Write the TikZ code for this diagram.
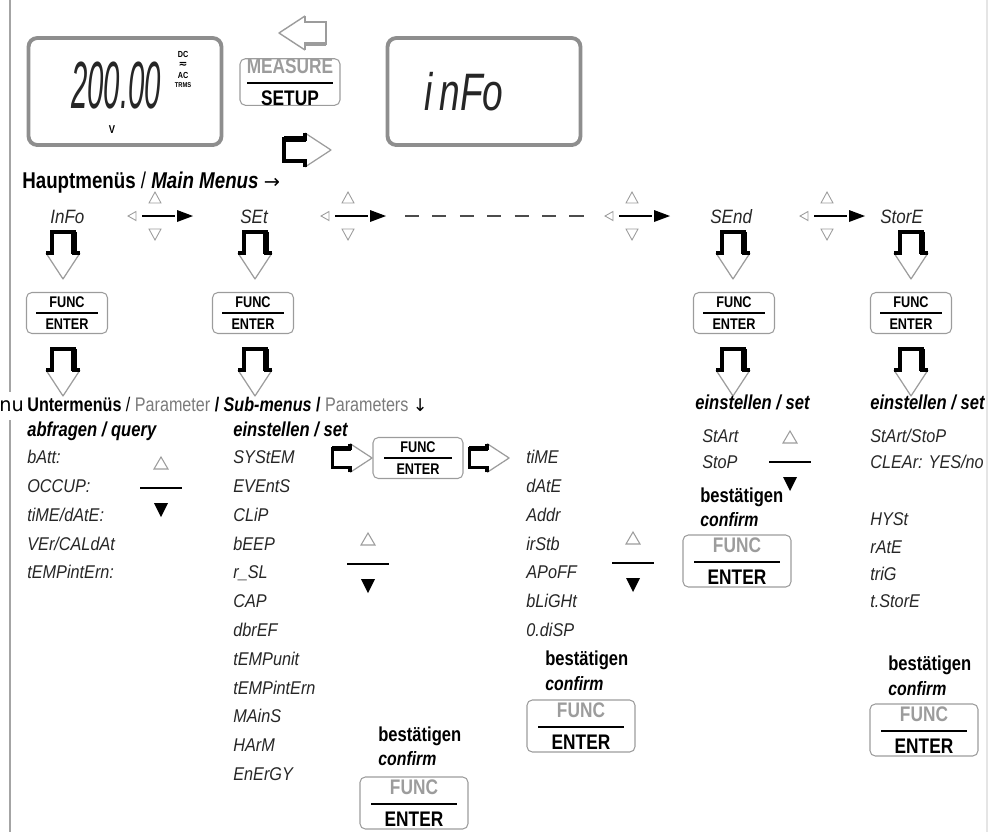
\documentclass[tikz,border=0pt]{standalone}
\usepackage{fontspec}
\setmainfont{Liberation Sans}
\newfontfamily\narrowfont[FakeStretch=0.82]{Liberation Sans}
\newfontfamily\lcdfont[FakeStretch=0.88]{Liberation Sans}
\newfontfamily\symfont{DejaVu Sans}
\usetikzlibrary{positioning}

\definecolor{framegray}{HTML}{8E8E8E}
\definecolor{keygray}{HTML}{9C9C9C}
\definecolor{paragray}{HTML}{7A7A7A}
\definecolor{lcdink}{HTML}{262626}

\tikzset{
  lcdbox/.style={draw=framegray, line width=2.2pt, rounded corners=5pt, minimum width=3.86cm, minimum height=2.14cm},
  key/.style={draw=keygray, line width=0.6pt, rounded corners=3pt, inner sep=0pt, align=center},
  smallkey/.style={key, minimum width=1.62cm, minimum height=0.82cm, font=\narrowfont\bfseries\fontsize{8.8}{9.4}\selectfont},
  bigkey/.style={key, minimum width=2.16cm, minimum height=1.04cm, font=\narrowfont\bfseries\fontsize{12}{12.5}\selectfont},
  lcdtext/.style={font=\lcdfont\itshape\fontsize{10.5}{12}\selectfont, text=lcdink, anchor=base west, inner sep=0pt},
  menutext/.style={font=\lcdfont\itshape\fontsize{11}{12}\selectfont, text=lcdink, anchor=base west, inner sep=0pt},
  headtext/.style={font=\narrowfont\fontsize{12}{14}\selectfont, anchor=base west, inner sep=0pt},
  settext/.style={font=\narrowfont\bfseries\itshape\fontsize{11.5}{13}\selectfont, anchor=base west, inner sep=0pt},
  oktext/.style={font=\narrowfont\bfseries\fontsize{11.5}{13}\selectfont, anchor=base west, inner sep=0pt},
  conftext/.style={font=\narrowfont\bfseries\itshape\fontsize{11}{13}\selectfont, anchor=base west, inner sep=0pt},
  tinymark/.style={font=\narrowfont\bfseries\fontsize{5}{5}\selectfont, inner sep=0pt},
  % pulse with hollow arrow head (points down, origin at the feet)
  pulsearrow/.pic={
    \draw[keygray, fill=white, line width=0.7pt, line join=round] (-17,0) -- (0,26) -- (17,0);
    \draw[line width=1.8pt] (-17,0) -- (-11,0) -- (-11,-21) -- (11,-21) -- (11,0) -- (17,0);
    \draw[line width=3pt] (11,-21) -- (11,1);
  },
  graypulse/.pic={
    \draw[keygray, fill=white, line width=0.8pt, line join=round] (-17,0) -- (0,26) -- (17,0);
    \draw[keygray, line width=1.5pt] (-17,0) -- (-11,0) -- (-11,-21) -- (11,-21) -- (11,0) -- (17,0);
    \draw[keygray, line width=2.6pt] (11,-21) -- (11,1);
  },
  % horizontal scroll symbol
  navh/.pic={
    \draw[keygray, line width=0.5pt] (-19,-4.5) -- (-27,0) -- (-19,4.5) -- cycle;
    \draw[line width=1.4pt] (-13,0) -- (20,0);
    \fill (22,-6) -- (38,0) -- (22,6) -- cycle;
    \draw[keygray, line width=0.5pt] (-6,-13) -- (6,-13) -- (0,-24) -- cycle;
    \draw[keygray, line width=0.5pt] (-6,13) -- (6,13) -- (0,24) -- cycle;
  },
  % vertical scroll symbol
  navv/.pic={
    \draw[keygray, line width=0.6pt] (-7,-19) -- (7,-19) -- (0,-31) -- cycle;
    \draw[line width=1.7pt] (-21,0) -- (21,0);
    \fill (-7,15) -- (7,15) -- (0,29) -- cycle;
  },
}

\newcommand{\funckey}[1]{FUNC\\[-3.6pt]\rule[2pt]{#1}{1.2pt}\\[-3pt]ENTER}
\newcommand{\grayfunckey}[1]{{\color{keygray}FUNC}\\[-4pt]\rule[2.4pt]{#1}{1.5pt}\\[-3pt]ENTER}

\begin{document}
\begin{tikzpicture}[x=0.02cm, y=-0.02cm, >=stealth]
  \useasboundingbox (0,0) rectangle (988,832);

  % --- 1. Rahmen links ---
  \draw[framegray!80, line width=1.3pt] (10,0) -- (10,392);
  \draw[framegray!80, line width=1.3pt] (10,420) -- (10,832);
  \draw[black!10, line width=0.6pt] (987,0) -- (987,832);
  \node[font=\symfont\fontsize{11}{13}\selectfont, anchor=base west, inner sep=0pt] (cutoff) at (-1,411) {nu};

  % --- 2. Anzeigen und MEASURE/SETUP ---
  \node[lcdbox] (dispmeas) at (125,91.5) {};
  \node[font=\lcdfont\itshape\fontsize{38}{38}\selectfont, text=lcdink, inner sep=0pt] (reading) at (116,86) {\scalebox{0.5}[1]{200.00}};
  \node[tinymark] (dcmark) at (183,54) {DC};
  \node[font=\symfont\bfseries\fontsize{6}{6}\selectfont, inner sep=0pt] (acdcmark) at (183,64.5) {≂};
  \node[tinymark] (acmark) at (183,75) {AC};
  \node[tinymark, font=\narrowfont\bfseries\fontsize{4}{4}\selectfont] (trmsmark) at (183,85) {TRMS};
  \node[font=\narrowfont\bfseries\fontsize{6.5}{6.5}\selectfont, inner sep=0pt] (voltmark) at (112,130) {V};

  \node[key, minimum width=2.0cm, minimum height=0.84cm, font=\narrowfont\bfseries\fontsize{12}{12.5}\selectfont] (measkey) at (290,82)
    {{\color{keygray}MEASURE}\\[-4pt]\rule[2.4pt]{1.72cm}{1.4pt}\\[-3pt]SETUP};

  \node[lcdbox] (dispinfo) at (484,91.5) {};
  \node[font=\lcdfont\itshape\fontsize{30}{30}\selectfont, text=lcdink, inner sep=0pt] (infotext) at (464,92) {\scalebox{0.8}[1]{i\,nFo}};

  \pic[rotate=-90] (backarrow) at (305,33) {graypulse};
  \pic[rotate=90] (fwdarrow) at (305,150) {pulsearrow};

  % --- 3. Hauptmenüs ---
  \node[headtext, font=\narrowfont\fontsize{13}{15}\selectfont] (mainhead) at (22,188) {\textbf{Hauptmenüs} / \textbf{\textit{Main Menus}} {\symfont\fontsize{11}{13}\selectfont →}};

  \node[menutext] (minfo) at (50,223) {InFo};
  \node[menutext] (mset) at (240,223) {SEt};
  \node[menutext] (msend) at (710,223) {SEnd};
  \node[menutext] (mstore) at (880,223) {StorE};

  \pic (nav1) at (155,216) {navh};
  \pic (nav2) at (348,216) {navh};
  \pic (nav3) at (632,216) {navh};
  \pic (nav4) at (827,216) {navh};
  \draw[black!70, line width=1.2pt, dash pattern=on 8pt off 7.6pt] (405,216) -- (588,216);

  % --- 4. FUNC/ENTER unter den Hauptmenüs ---
  \pic (pinfo1) at (63,253) {pulsearrow};
  \pic (pset1) at (255,253) {pulsearrow};
  \pic (psend1) at (733,253) {pulsearrow};
  \pic (pstore1) at (911,253) {pulsearrow};

  \node[smallkey] (kinfo) at (67,313) {\funckey{1.24cm}};
  \node[smallkey] (kset) at (253,313) {\funckey{1.24cm}};
  \node[smallkey] (ksend) at (734,313) {\funckey{1.24cm}};
  \node[smallkey] (kstore) at (911,313) {\funckey{1.24cm}};

  \pic (pinfo2) at (63,370) {pulsearrow};
  \pic (pset2) at (255,370) {pulsearrow};
  \pic (psend2) at (733,370) {pulsearrow};
  \pic (pstore2) at (911,370) {pulsearrow};

  % --- 5. Untermenüs ---
  \node[headtext, font=\narrowfont\fontsize{11.2}{13}\selectfont] (subhead) at (27,411) {\textbf{Untermenüs} / {\color{paragray}Parameter} \textbf{/} \textbf{\textit{Sub-menus}} \textbf{/} {\color{paragray}Parameters} {\symfont\fontsize{10}{12}\selectfont ↓}};

  % abfragen
  \node[settext] (qhead) at (27,436) {abfragen / query};
  \node[lcdtext] (qbatt) at (27,463) {bAtt:};
  \node[lcdtext] (qoccup) at (27,492) {OCCUP:};
  \node[lcdtext] (qtime) at (27,521) {tiME/dAtE:};
  \node[lcdtext] (qver) at (27,550) {VEr/CALdAt};
  \node[lcdtext] (qtemp) at (27,578) {tEMPintErn:};
  \pic (qnav) at (161,488) {navv};

  % einstellen (SEt)
  \node[settext] (shead) at (233,436) {einstellen / set};
  \node[lcdtext] (ssystem) at (233,463) {SYStEM};
  \node[lcdtext] (sevents) at (233,492) {EVEntS};
  \node[lcdtext] (sclip) at (233,521) {CLiP};
  \node[lcdtext] (sbeep) at (233,550) {bEEP};
  \node[lcdtext] (srsl) at (233,578) {r\_SL};
  \node[lcdtext] (scap) at (233,607) {CAP};
  \node[lcdtext] (sdbref) at (233,636) {dbrEF};
  \node[lcdtext] (stunit) at (233,665) {tEMPunit};
  \node[lcdtext] (stintern) at (233,694) {tEMPintErn};
  \node[lcdtext] (smains) at (233,722) {MAinS};
  \node[lcdtext] (sharm) at (233,751) {HArM};
  \node[lcdtext] (senergy) at (233,780) {EnErGY};
  \pic (snav) at (368,564) {navv};

  \pic[rotate=90, scale=0.85] (sysarrow1) at (350,458) {pulsearrow};
  \node[smallkey, minimum width=1.8cm] (ksys) at (418,458) {\funckey{1.36cm}};
  \pic[rotate=90, scale=0.85] (sysarrow2) at (487,458) {pulsearrow};

  \node[oktext] (sok) at (378,741) {bestätigen};
  \node[conftext] (sconf) at (378,765) {confirm};
  \node[bigkey] (kset2) at (414,803) {\grayfunckey{1.72cm}};

  % System-Parameter
  \node[lcdtext] (ytime) at (526,463) {tiME};
  \node[lcdtext] (ydate) at (526,492) {dAtE};
  \node[lcdtext] (yaddr) at (526,521) {Addr};
  \node[lcdtext] (yirstb) at (526,550) {irStb};
  \node[lcdtext] (yapoff) at (526,578) {APoFF};
  \node[lcdtext] (ylight) at (526,607) {bLiGHt};
  \node[lcdtext] (ydisp) at (526,636) {0.diSP};
  \pic (ynav) at (633,563) {navv};

  \node[oktext] (yok) at (545,665) {bestätigen};
  \node[conftext] (yconf) at (545,690) {confirm};
  \node[bigkey] (ksys2) at (581,726) {\grayfunckey{1.72cm}};

  % SEnd
  \node[settext] (dhead) at (695,409) {einstellen / set};
  \node[lcdtext] (dstart) at (702,442) {StArt};
  \node[lcdtext] (dstop) at (702,468) {StoP};
  \pic (dnav) at (790,462) {navv};
  \node[oktext] (dok) at (700,502) {bestätigen};
  \node[conftext] (dconf) at (700,526) {confirm};
  \node[bigkey] (ksend2) at (737,561) {\grayfunckey{1.72cm}};

  % StorE
  \node[settext] (rhead) at (870,409) {einstellen / set};
  \node[lcdtext] (rstart) at (870,442) {StArt/StoP};
  \node[lcdtext] (rclear) at (870,468) {CLEAr: YES/no};
  \node[lcdtext] (rhyst) at (870,525) {HYSt};
  \node[lcdtext] (rrate) at (870,553) {rAtE};
  \node[lcdtext] (rtrig) at (870,580) {triG};
  \node[lcdtext] (rstore) at (870,607) {t.StorE};
  \node[oktext] (rok) at (888,670) {bestätigen};
  \node[conftext] (rconf) at (888,695) {confirm};
  \node[bigkey] (kstore2) at (924,730) {\grayfunckey{1.72cm}};

\end{tikzpicture}
\end{document}
